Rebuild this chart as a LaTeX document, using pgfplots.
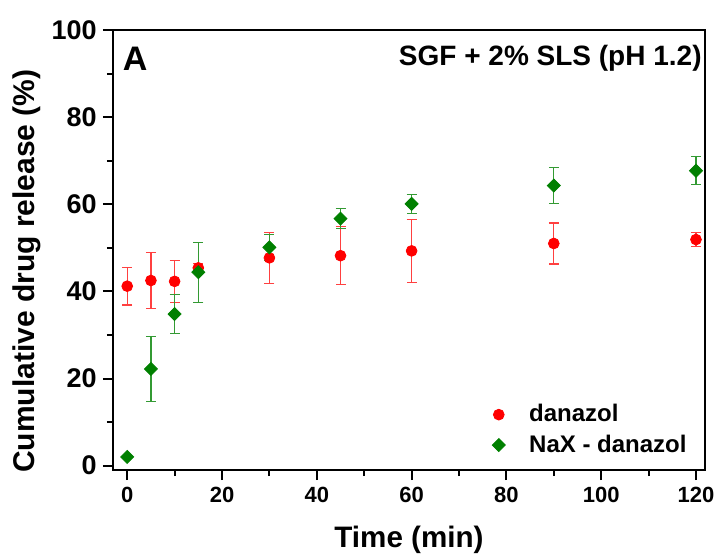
\documentclass[border=0pt]{standalone}
\usepackage{pgfplots}
\pgfplotsset{compat=1.18}
\usepackage{fontspec}
\setmainfont{Liberation Sans}
\definecolor{ptred}{RGB}{255,0,0}
\definecolor{ptgreen}{RGB}{0,128,0}

\begin{document}
\begin{tikzpicture}
\useasboundingbox (-56.5pt,-42pt) rectangle (302pt,235pt);
\begin{axis}[
    at={(0pt,0pt)}, anchor=south west,
    scale only axis,
    width=296pt, height=220pt,
    xmin=-3, xmax=121.9, ymin=-1, ymax=100,
    xtick={0,20,...,120}, minor xtick={10,30,...,110},
    ytick={0,20,...,100}, minor ytick={10,30,...,90},
    tick pos=left, tick align=outside,
    major tick length=5pt, minor tick length=3pt,
    axis line style={line width=1.2pt},
    every tick/.style={black, line width=1pt},
    /pgf/number format/assume math mode=true,
    xticklabel style={font=\bfseries\fontsize{11}{13}\selectfont},
    yticklabel style={font=\bfseries\fontsize{13.5}{15}\selectfont, inner xsep=3pt},
    xlabel={Time (min)},
    ylabel={Cumulative drug release (\%)},
    xlabel style={font=\bfseries\fontsize{14.8}{17}\selectfont,
        at={(axis description cs:0.5,-0.177)}, anchor=base},
    ylabel style={font=\bfseries\fontsize{15}{17}\selectfont,
        at={(axis description cs:-0.132,0.452)}, anchor=base},
    legend style={draw=none, fill=none, inner sep=0pt,
        at={(rel axis cs:0.640,0.159)}, anchor=north west,
        font=\bfseries\fontsize{12}{14}\selectfont, row sep=1pt},
    legend cell align=left,
    legend image code/.code={\path (0pt,0pt) (16pt,0pt);
        \draw[mark repeat=2,mark phase=2]
        plot coordinates {(0pt,0pt) (3pt,0pt) (16pt,0pt)};},
]
% danazol
\addplot[only marks, mark=*, mark size=2.7pt, color=ptred,
    error bars/.cd, y dir=both, y explicit,
    error bar style={ptred!75, line width=0.6pt},
    error mark options={rotate=90, mark size=2.5pt, ptred!75, line width=0.6pt}]
table[x=t, y=y, y error=e] {
t   y    e
0   41.2 4.3
5   42.5 6.5
10  42.3 4.8
15  45.4 1.0
30  47.7 5.8
45  48.2 6.7
60  49.3 7.2
90  51.0 4.7
120 51.9 1.6
};
\addlegendentry{danazol}
% NaX - danazol
\addplot[only marks, mark=square*, mark size=2.3pt, mark options={rotate=45},
    color=ptgreen,
    error bars/.cd, y dir=both, y explicit,
    error bar style={ptgreen!80, line width=0.6pt},
    error mark options={rotate=90, mark size=2.5pt, ptgreen!80, line width=0.6pt}]
table[x=t, y=y, y error=e] {
t   y    e
0   2.0  0.0
5   22.2 7.4
10  34.8 4.5
15  44.4 6.9
30  50.1 3.0
45  56.7 2.3
60  60.1 2.2
90  64.3 4.2
120 67.7 3.2
};
\addlegendentry{NaX - danazol}
\node[anchor=north west, inner sep=0pt, font=\bfseries\fontsize{17}{19}\selectfont]
    at ([shift={(4.8pt,-8.5pt)}]rel axis cs:0,1) {A};
\node[anchor=north east, inner sep=0pt, font=\bfseries\fontsize{14}{16}\selectfont]
    at ([shift={(-1.5pt,-7.3pt)}]rel axis cs:1,1) {SGF + 2\% SLS (pH 1.2)};
\end{axis}
\end{tikzpicture}
\end{document}
